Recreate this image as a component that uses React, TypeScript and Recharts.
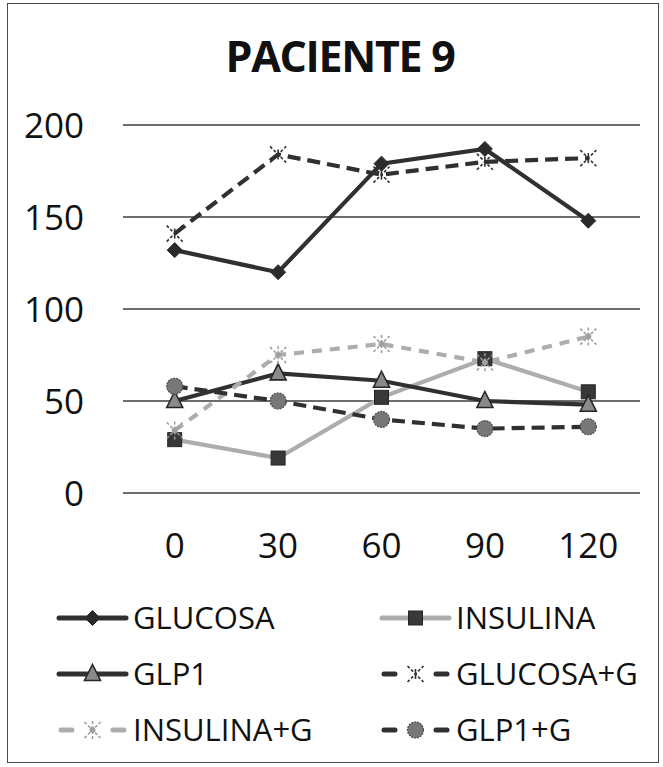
import React from "react";
import { LineChart, Line, XAxis, YAxis, CartesianGrid } from "recharts";

// Sampling times (min) and measured values per series
const TIMES = [0, 30, 60, 90, 120];
const GLUCOSA = [132, 120, 179, 187, 148];
const INSULINA = [29, 19, 52, 73, 55];
const GLP1 = [50, 65, 61, 50, 48];
const GLUCOSA_G = [141, 184, 173, 180, 182];
const INSULINA_G = [34, 75, 81, 71, 85];
const GLP1_G = [58, 50, 40, 35, 36];
const Y_TICKS = [0, 50, 100, 150, 200];
const TITLE = "PACIENTE 9";

const FONT = "'Open Sans', 'DejaVu Sans', sans-serif";
const DARK = "#303030";
const LIGHT = "#adadad";

const rows = TIMES.map((t, i) => ({
  t,
  glucosa: GLUCOSA[i],
  insulina: INSULINA[i],
  glp1: GLP1[i],
  glucosaG: GLUCOSA_G[i],
  insulinaG: INSULINA_G[i],
  glp1G: GLP1_G[i],
}));

type MarkerKind = "diamond" | "square" | "triangle" | "cross" | "star" | "circle";

function Marker({ kind, cx, cy }: { kind: MarkerKind; cx: number; cy: number }) {
  switch (kind) {
    case "diamond":
      return (
        <polygon
          points={`${cx},${cy - 7.5} ${cx + 7.5},${cy} ${cx},${cy + 7.5} ${cx - 7.5},${cy}`}
          fill="#2a2a2a"
          stroke="#2a2a2a"
          strokeWidth={1}
        />
      );
    case "square":
      return <rect x={cx - 7} y={cy - 7} width={14} height={14} fill="#383838" stroke="#262626" strokeWidth={1} />;
    case "triangle":
      return (
        <polygon
          points={`${cx},${cy - 9.5} ${cx + 8},${cy + 6.5} ${cx - 8},${cy + 6.5}`}
          fill="#8a8a8a"
          stroke="#262626"
          strokeWidth={1.6}
        />
      );
    case "cross":
      return (
        <g stroke="#303030" strokeWidth={1.6} strokeDasharray="3 2">
          <line x1={cx - 8} y1={cy - 8} x2={cx + 8} y2={cy + 8} />
          <line x1={cx - 8} y1={cy + 8} x2={cx + 8} y2={cy - 8} />
          <line x1={cx} y1={cy - 5} x2={cx} y2={cy + 5} strokeDasharray="none" />
        </g>
      );
    case "star":
      return (
        <g stroke="#9a9a9a" strokeWidth={1.5} strokeDasharray="3 2">
          <line x1={cx - 8} y1={cy - 8} x2={cx + 8} y2={cy + 8} />
          <line x1={cx - 8} y1={cy + 8} x2={cx + 8} y2={cy - 8} />
          <line x1={cx} y1={cy - 9} x2={cx} y2={cy + 9} />
          <circle cx={cx} cy={cy} r={3} fill="#a0a0a0" stroke="none" />
        </g>
      );
    case "circle":
      return <circle cx={cx} cy={cy} r={8} fill="#777777" stroke="#4a4a4a" strokeWidth={1.2} strokeDasharray="2 1" />;
  }
  return null;
}

type SeriesDef = {
  key: string;
  name: string;
  color: string;
  dash?: string;
  marker: MarkerKind;
};

const SERIES: SeriesDef[] = [
  { key: "glucosa", name: "GLUCOSA", color: DARK, marker: "diamond" },
  { key: "insulina", name: "INSULINA", color: LIGHT, marker: "square" },
  { key: "glp1", name: "GLP1", color: DARK, marker: "triangle" },
  { key: "glucosaG", name: "GLUCOSA+G", color: DARK, dash: "13 7", marker: "cross" },
  { key: "insulinaG", name: "INSULINA+G", color: LIGHT, dash: "10 8", marker: "star" },
  { key: "glp1G", name: "GLP1+G", color: DARK, dash: "13 7", marker: "circle" },
];

const makeDot = (kind: MarkerKind) => (p: any) => {
  if (p.cx == null || p.cy == null) return <g key={p.index} />;
  return (
    <g key={`${kind}-${p.index}`}>
      <Marker kind={kind} cx={p.cx} cy={p.cy} />
    </g>
  );
};

const YTick = (p: any) => (
  <text x={84} y={p.y} dy="0.36em" textAnchor="end" fontSize={35} fill="#111" fontFamily={FONT}>
    {p.payload.value}
  </text>
);

const XTick = (p: any) => (
  <text x={p.x} y={545} dy="0.36em" textAnchor="middle" fontSize={35} fill="#111" fontFamily={FONT}>
    {p.payload.value}
  </text>
);

// Legend: two columns, three rows
const LEG_COLS = [59, 382];
const LEG_ROWS = [618, 674, 730];

function LegendItem({ s, x, y }: { s: SeriesDef; x: number; y: number }) {
  const mid = x + 33.5;
  return (
    <g>
      {s.dash ? (
        <g stroke={s.color} strokeWidth={5} strokeLinecap="round">
          <line x1={x + 2} y1={y} x2={x + 13} y2={y} />
          <line x1={x + 54} y1={y} x2={x + 65} y2={y} />
        </g>
      ) : (
        <line x1={x} y1={y} x2={x + 67} y2={y} stroke={s.color} strokeWidth={5} strokeLinecap="round" />
      )}
      <Marker kind={s.marker} cx={mid} cy={y} />
      <text x={x + 74} y={y} dy="0.36em" fontSize={31} fill="#111" fontFamily={FONT}>
        {s.name}
      </text>
    </g>
  );
}

export default function App() {
  return (
    <div style={{ position: "absolute", left: 0, top: 0, width: 663, height: 767, background: "#fff" }}>
      <div
        style={{
          position: "absolute",
          left: 7,
          top: 3,
          width: 652,
          height: 760,
          border: "1px solid #4a4a4a",
          boxSizing: "border-box",
        }}
      />
      <div style={{ position: "absolute", left: 0, top: 0 }}>
        <LineChart width={663} height={767} data={rows} margin={{ top: 125, right: 23, bottom: 214, left: 63 }}>
          <CartesianGrid horizontal vertical={false} stroke="#3c3c3c" strokeWidth={1.4} />
          <XAxis
            dataKey="t"
            type="number"
            domain={[-15, 135]}
            ticks={TIMES}
            axisLine={false}
            tickLine={false}
            height={60}
            tick={XTick}
            interval={0}
          />
          <YAxis
            domain={[0, 200]}
            ticks={Y_TICKS}
            axisLine={false}
            tickLine={false}
            width={60}
            tick={YTick}
            interval={0}
          />
          {SERIES.map((s) => (
            <Line
              key={s.key}
              dataKey={s.key}
              name={s.name}
              stroke={s.color}
              strokeWidth={4.2}
              strokeDasharray={s.dash}
              dot={makeDot(s.marker)}
              activeDot={false}
              isAnimationActive={false}
              type="linear"
            />
          ))}
        </LineChart>
      </div>
      <svg width={663} height={767} style={{ position: "absolute", left: 0, top: 0, pointerEvents: "none" }}>
        <text x={340} y={57} dy="0.36em" textAnchor="middle" fontSize={43} fontWeight={700} letterSpacing={-1.3} fill="#111" fontFamily={FONT}>
          {TITLE}
        </text>
        {SERIES.map((s, i) => (
          <LegendItem key={s.key} s={s} x={LEG_COLS[i % 2]} y={LEG_ROWS[Math.floor(i / 2)]} />
        ))}
      </svg>
    </div>
  );
}
